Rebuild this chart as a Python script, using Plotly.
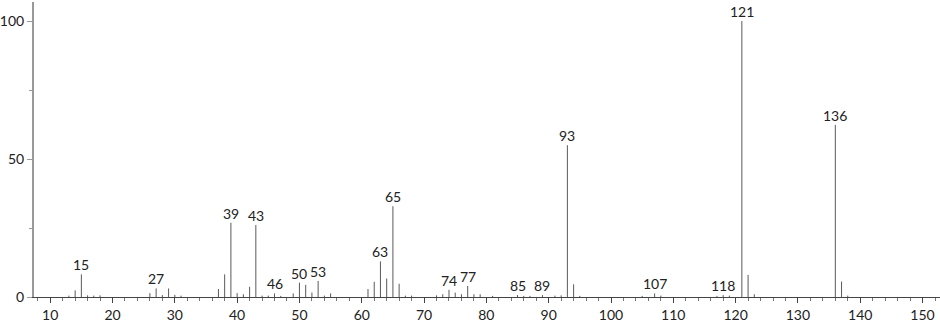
import plotly.graph_objects as go

# m/z values and relative intensities
mz = [13, 14, 15, 16, 17, 18, 26, 27, 28, 29, 30, 31,
      37, 38, 39, 40, 41, 42, 43, 44, 45, 46, 47, 49, 50, 51, 52, 53, 54, 55,
      61, 62, 63, 64, 65, 66, 67, 68, 72, 73, 74, 75, 76, 77, 78, 79, 81,
      85, 86, 87, 89, 91, 92, 93, 94, 95, 105, 107, 108, 117, 118, 119,
      121, 122, 123, 136, 137, 138]
intensity = [0.5, 2.4, 8.2, 0.6, 0.5, 0.6, 1.4, 3.1, 0.7, 3.1, 0.8, 0.5,
             2.9, 8.2, 26.9, 1.4, 1.0, 3.7, 26.1, 0.5, 0.5, 1.3, 0.4, 1.3, 5.2, 4.4, 1.6, 5.8, 0.5, 1.3,
             2.9, 5.5, 12.9, 6.7, 32.9, 4.8, 0.5, 0.5, 0.6, 1.0, 2.6, 1.6, 1.0, 4.0, 1.0, 1.0, 0.4,
             0.7, 0.4, 0.4, 0.7, 0.5, 0.6, 55.0, 4.6, 0.4, 0.4, 1.3, 0.5, 0.4, 0.7, 0.5,
             100.0, 8.0, 1.0, 62.4, 5.6, 0.5]

labelled = [15, 27, 39, 43, 46, 50, 53, 63, 65, 74, 77, 85, 89, 93, 107, 118, 121, 136]

xs, ys = [], []
for m, h in zip(mz, intensity):
    xs += [m, m, None]
    ys += [0, h, None]

fig = go.Figure()
fig.add_trace(go.Scatter(x=xs, y=ys, mode="lines",
                         line=dict(color="#5a5a5a", width=1),
                         hoverinfo="skip", showlegend=False))

lookup = dict(zip(mz, intensity))
for m in labelled:
    fig.add_annotation(x=m, y=lookup[m], text=str(m), showarrow=False,
                       yanchor="bottom", yshift=-1,
                       font=dict(family="Lato, DejaVu Sans, sans-serif", size=14, color="#222222"))

fig.update_layout(
    width=940, height=323,
    margin=dict(l=29, r=0, t=2, b=22),
    paper_bgcolor="white", plot_bgcolor="white",
    font=dict(family="Lato, DejaVu Sans, sans-serif", size=14, color="#222222"),
    xaxis=dict(range=[7.4, 152.8], showgrid=False, zeroline=False,
               showline=True, linecolor="#444444", linewidth=1,
               tickmode="linear", tick0=10, dtick=10,
               ticks="outside", ticklen=5, tickcolor="#444444",
               minor=dict(dtick=2, tick0=10, ticks="outside", ticklen=3, tickcolor="#777777"),
               tickfont=dict(size=14)),
    yaxis=dict(range=[0, 106.9], showgrid=False, zeroline=False,
               showline=True, linecolor="#999999", linewidth=2,
               tickmode="array", tickvals=[0, 50, 100],
               ticks="outside", ticklen=5, tickcolor="#999999",
               minor=dict(tickvals=[25, 75], ticks="outside", ticklen=3, tickcolor="#999999"),
               tickfont=dict(size=14)),
)

fig.write_html("out.html")
